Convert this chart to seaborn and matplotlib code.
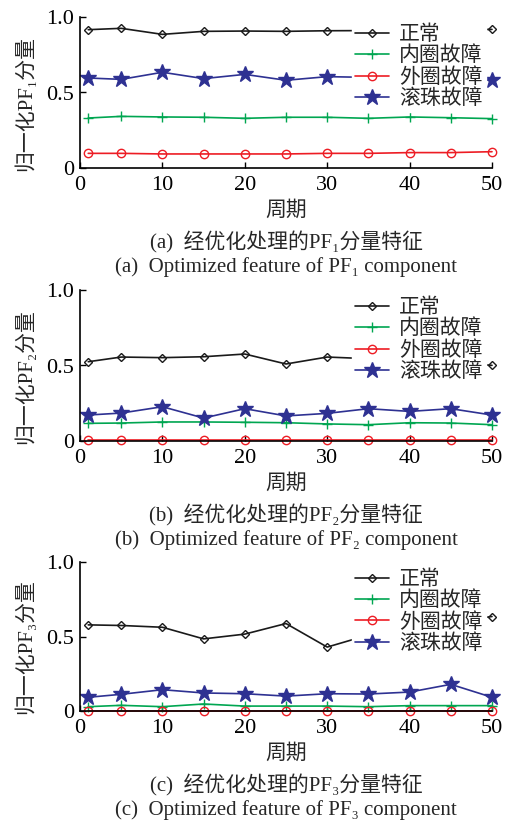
import matplotlib
matplotlib.use("Agg")
import matplotlib.pyplot as plt
import seaborn as sns
import pandas as pd

sns.set_theme(style="white")
plt.rcParams['font.family'] = ['Liberation Serif', 'Noto Sans CJK SC', 'DejaVu Sans']

cycles = [1, 5, 10, 15, 20, 25, 30, 35, 40, 45, 50]
series_names = ["正常", "内圈故障", "外圈故障", "滚珠故障"]

pf1_normal = [0.916, 0.925, 0.885, 0.905, 0.907, 0.905, 0.909, 0.91, 0.91, 0.915, 0.918]
pf1_inner = [0.331, 0.342, 0.338, 0.336, 0.329, 0.336, 0.336, 0.329, 0.338, 0.333, 0.327]
pf1_outer = [0.097, 0.097, 0.093, 0.093, 0.093, 0.093, 0.097, 0.097, 0.102, 0.102, 0.108]
pf1_ball = [0.596, 0.587, 0.634, 0.592, 0.620, 0.581, 0.605, 0.60, 0.61, 0.59, 0.581]

pf2_normal = [0.525, 0.556, 0.552, 0.558, 0.576, 0.510, 0.556, 0.545, 0.53, 0.52, 0.501]
pf2_inner = [0.117, 0.119, 0.126, 0.126, 0.124, 0.121, 0.113, 0.108, 0.121, 0.119, 0.108]
pf2_outer = [0.004, 0.004, 0.004, 0.004, 0.004, 0.004, 0.004, 0.004, 0.004, 0.004, 0.004]
pf2_ball = [0.172, 0.185, 0.227, 0.152, 0.214, 0.166, 0.183, 0.214, 0.196, 0.214, 0.172]

pf3_normal = [0.578, 0.574, 0.562, 0.484, 0.516, 0.587, 0.429, 0.51, 0.55, 0.60, 0.634]
pf3_inner = [0.029, 0.038, 0.029, 0.047, 0.033, 0.033, 0.033, 0.029, 0.036, 0.036, 0.036]
pf3_outer = [0.003, 0.003, 0.003, 0.003, 0.003, 0.003, 0.003, 0.003, 0.003, 0.003, 0.003]
pf3_ball = [0.092, 0.112, 0.143, 0.121, 0.116, 0.100, 0.116, 0.114, 0.127, 0.179, 0.092]

subs = ["₁", "₂", "₃"]
letters = ["a", "b", "c"]
panel_data = [
    [pf1_normal, pf1_inner, pf1_outer, pf1_ball],
    [pf2_normal, pf2_inner, pf2_outer, pf2_ball],
    [pf3_normal, pf3_inner, pf3_outer, pf3_ball],
]

colors = ["#1a1a1a", "#00a651", "#ed1c24", "#2e3192"]
markers = ["D", "+", "o", "*"]
msizes = [4.5, 7, 6, 12]
mfcs = ["none", "#00a651", "none", "#2e3192"]

fig = plt.figure(figsize=(5.17, 8.21), dpi=100)
W, H = 517, 821
ax_rects = [(17, 168), (290, 441), (562, 711)]
left_px, right_px = 80, 492

for sub, letter, data, (top, bot) in zip(subs, letters, panel_data, ax_rects):
    ax = fig.add_axes([left_px / W, 1 - bot / H, (right_px - left_px) / W, (bot - top) / H])
    for name, vals, c, m, ms, mfc in zip(series_names, data, colors, markers, msizes, mfcs):
        df = pd.DataFrame({"x": cycles, "y": vals})
        sns.lineplot(data=df, x="x", y="y", ax=ax, color=c, marker=m, markersize=ms,
                     markerfacecolor=mfc, markeredgecolor=c, markeredgewidth=1.0,
                     linewidth=1.2, label=name, clip_on=False)
    ax.set_xlim(0, 50)
    ax.set_ylim(0, 1)
    ax.set_xticks([0, 10, 20, 30, 40, 50])
    ax.set_yticks([0, 0.5, 1.0])
    ax.set_yticklabels(["0", "0.5", "1.0"])
    for s in ["top", "right"]:
        ax.spines[s].set_visible(False)
    for s in ["left", "bottom"]:
        ax.spines[s].set_color("black")
        ax.spines[s].set_linewidth(1.2)
    ax.tick_params(axis="both", direction="in", length=4, width=1.0, labelsize=16,
                   colors="black", left=True, bottom=True)
    ax.tick_params(axis="y", pad=4)
    ax.tick_params(axis="x", pad=6)
    ax.set_xlabel("")
    ax.set_ylabel(f"归一化PF{sub}分量", fontsize=15)
    ax.yaxis.set_label_coords(-0.107, 0.43)
    leg = ax.legend(loc="upper right", bbox_to_anchor=(0.985, 0.965), frameon=True,
                    fontsize=15, handlelength=1.6, handletextpad=0.5, labelspacing=0.08,
                    borderpad=0.15, borderaxespad=0.0)
    leg.get_frame().set_facecolor("white")
    leg.get_frame().set_edgecolor("white")
    leg.get_frame().set_alpha(1)
    cx = (left_px + right_px) / 2 / W
    fig.text(cx, 1 - (bot + 43) / H, "周期", ha="center", va="center", fontsize=15)
    fig.text(cx, 1 - (bot + 74) / H, f"({letter})  经优化处理的PF{sub}分量特征",
             ha="center", va="center", fontsize=15)
    fig.text(cx, 1 - (bot + 99) / H, f"({letter})  Optimized feature of PF{sub} component",
             ha="center", va="center", fontsize=15)

fig.savefig("out.png", dpi=100)
